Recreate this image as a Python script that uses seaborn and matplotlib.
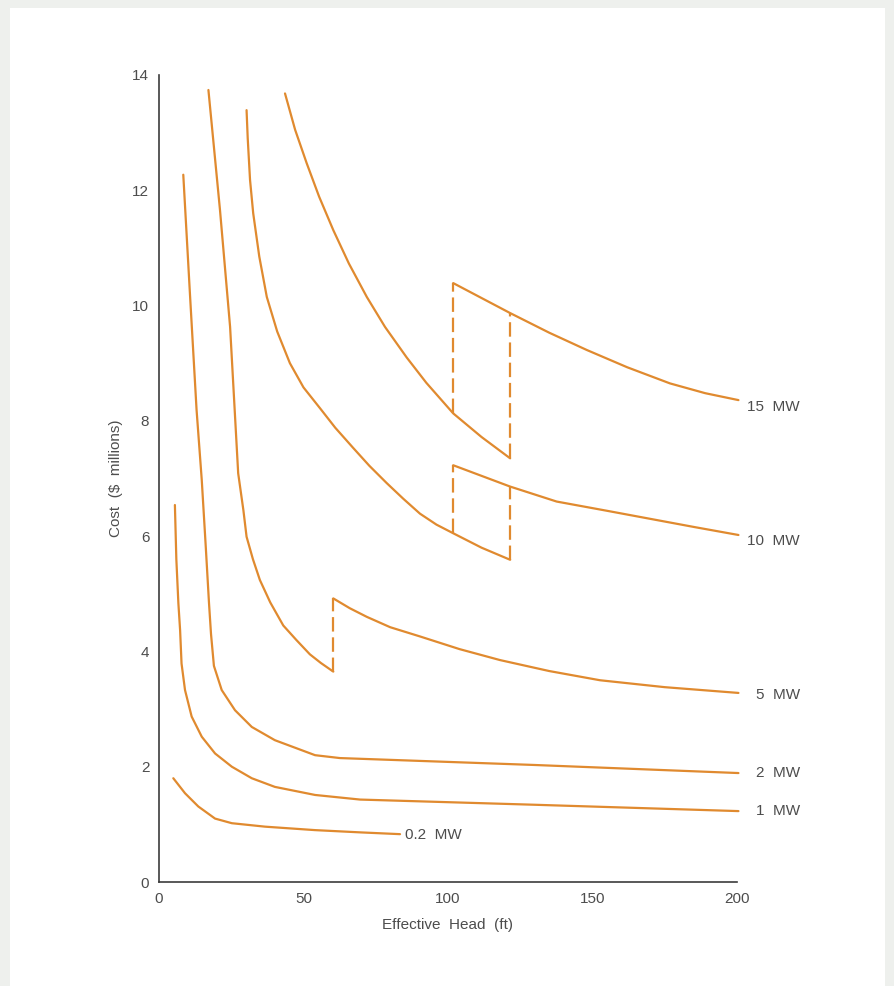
import matplotlib
matplotlib.use("Agg")
import matplotlib.pyplot as plt
from matplotlib.patches import Rectangle
import seaborn as sns
import pandas as pd

# ---------------- data ----------------
mw02_x = [4.95, 9.0, 13.6, 19.4, 25.2, 36.7, 54.0, 70.0, 83.4]
mw02_y = [1.80, 1.54, 1.31, 1.10, 1.02, 0.96, 0.90, 0.86, 0.83]

mw1_x = [5.5, 6.0, 6.7, 7.3, 7.8, 9.0, 11.3, 14.8, 19.4, 25.2, 32.1, 40.1,
         54.0, 69.6, 130.0, 200.5]
mw1_y = [6.54, 5.60, 4.84, 4.37, 3.79, 3.33, 2.87, 2.52, 2.23, 2.00, 1.80,
         1.65, 1.51, 1.43, 1.34, 1.23]

mw2_x = [8.4, 10.7, 13.0, 14.8, 16.2, 17.3, 18.0, 19.0, 21.7, 26.3, 32.1,
         40.1, 54.0, 62.6, 130.0, 200.5]
mw2_y = [12.27, 10.21, 8.19, 6.97, 5.80, 4.84, 4.30, 3.75, 3.33, 2.98, 2.69,
         2.46, 2.20, 2.15, 2.03, 1.89]

mw5_low_x = [17.1, 21.1, 24.6, 27.4, 29.2, 30.3, 32.5, 34.9, 38.5, 43.0,
             47.5, 52.2, 56.0, 60.3]
mw5_low_y = [13.74, 11.66, 9.63, 7.09, 6.45, 5.99, 5.60, 5.24, 4.85, 4.45,
             4.20, 3.95, 3.80, 3.65]
mw5_high_x = [60.3, 66.0, 71.9, 80.0, 90.3, 104.0, 118.0, 135.0, 152.6,
              175.0, 200.5]
mw5_high_y = [4.92, 4.75, 4.60, 4.42, 4.26, 4.04, 3.85, 3.66, 3.50, 3.38,
              3.28]

mw10_low_x = [30.3, 30.7, 31.5, 32.6, 34.7, 37.3, 40.9, 45.3, 50.0, 55.7,
              61.0, 67.2, 72.8, 78.8, 84.5, 90.3, 96.0, 101.8, 111.6, 121.5]
mw10_low_y = [13.39, 12.90, 12.18, 11.60, 10.85, 10.15, 9.55, 9.00, 8.58,
              8.22, 7.88, 7.53, 7.22, 6.92, 6.65, 6.39, 6.20, 6.05, 5.80, 5.59]
mw10_high_x = [101.8, 121.5, 137.6, 155.0, 170.0, 185.0, 200.5]
mw10_high_y = [7.23, 6.86, 6.60, 6.44, 6.30, 6.16, 6.02]

mw15_low_x = [43.6, 47.1, 51.1, 55.4, 60.3, 65.7, 71.9, 78.2, 85.7, 92.5,
              101.8, 111.6, 121.5]
mw15_low_y = [13.68, 13.05, 12.47, 11.89, 11.31, 10.73, 10.15, 9.63, 9.10,
              8.66, 8.13, 7.72, 7.35]
mw15_high_x = [101.8, 121.5, 135.0, 148.0, 162.0, 176.8, 189.0, 200.5]
mw15_high_y = [10.39, 9.87, 9.53, 9.23, 8.93, 8.65, 8.48, 8.36]

# dashed vertical connectors: (x, y_from, y_to)
jumps_x = [60.3, 101.8, 121.5, 101.8, 121.5]
jumps_y0 = [3.65, 6.05, 5.59, 8.13, 7.35]
jumps_y1 = [4.92, 7.23, 6.86, 10.39, 9.87]

labels = ["15  MW", "10  MW", "5  MW", "2  MW", "1  MW"]
labels_y = [8.24, 5.92, 3.24, 1.89, 1.24]
label02 = "0.2  MW"

x_ticks = [0, 50, 100, 150, 200]
y_ticks = [0, 2, 4, 6, 8, 10, 12, 14]

# ---------------- style ----------------
sns.set_theme(style="white")
plt.rcParams["font.family"] = ["Liberation Sans", "DejaVu Sans"]

ORANGE = "#e08a2f"
TEXT = "#4d4d4d"
AXIS = "#3c3c3c"
LW = 1.6

W, H = 894, 986
fig = plt.figure(figsize=(W / 100, H / 100), dpi=100)
fig.patch.set_facecolor("#eef0ed")
fig.patches.append(Rectangle((10 / W, 0), 875 / W, 1 - 8 / H,
                             transform=fig.transFigure, facecolor="white",
                             edgecolor="none", zorder=-10))

ax = fig.add_axes([159 / W, 1 - 882 / H, (737 - 159) / W, (882 - 75) / H])
ax.set_facecolor("none")

solid = [(mw02_x, mw02_y), (mw1_x, mw1_y), (mw2_x, mw2_y),
         (mw5_low_x, mw5_low_y), (mw5_high_x, mw5_high_y),
         (mw10_low_x, mw10_low_y), (mw10_high_x, mw10_high_y),
         (mw15_low_x, mw15_low_y), (mw15_high_x, mw15_high_y)]

for xs, ys in solid:
    df = pd.DataFrame({"x": xs, "y": ys})
    sns.lineplot(data=df, x="x", y="y", ax=ax, color=ORANGE, lw=LW,
                 sort=False, estimator=None, clip_on=False)

for xj, a, b in zip(jumps_x, jumps_y0, jumps_y1):
    df = pd.DataFrame({"x": [xj, xj], "y": [a, b]})
    sns.lineplot(data=df, x="x", y="y", ax=ax, color=ORANGE, lw=LW,
                 sort=False, estimator=None, dashes=False,
                 linestyle=(0, (6.5, 2.6)), clip_on=False)

for lab, ly in zip(labels, labels_y):
    ax.text(221.8, ly, lab, ha="right", va="center", fontsize=11,
            color=TEXT, clip_on=False)
ax.text(85.1, 0.82, label02, ha="left", va="center", fontsize=11,
        color=TEXT, clip_on=False)

ax.set_xlim(0, 200)
ax.set_ylim(0, 14)
ax.set_xticks(x_ticks)
ax.set_yticks(y_ticks)
ax.tick_params(direction="in", length=9, width=1, color=AXIS,
               labelsize=11, labelcolor=TEXT, pad=7)
for s in ["top", "right"]:
    ax.spines[s].set_visible(False)
for s in ["left", "bottom"]:
    ax.spines[s].set_color(AXIS)
    ax.spines[s].set_linewidth(1.2)

ax.set_xlabel("Effective  Head  (ft)", fontsize=11, color=TEXT, labelpad=9)
ax.set_ylabel("Cost  ($  millions)", fontsize=11, color=TEXT, labelpad=7)

fig.savefig("out.png", dpi=100, facecolor=fig.get_facecolor())
